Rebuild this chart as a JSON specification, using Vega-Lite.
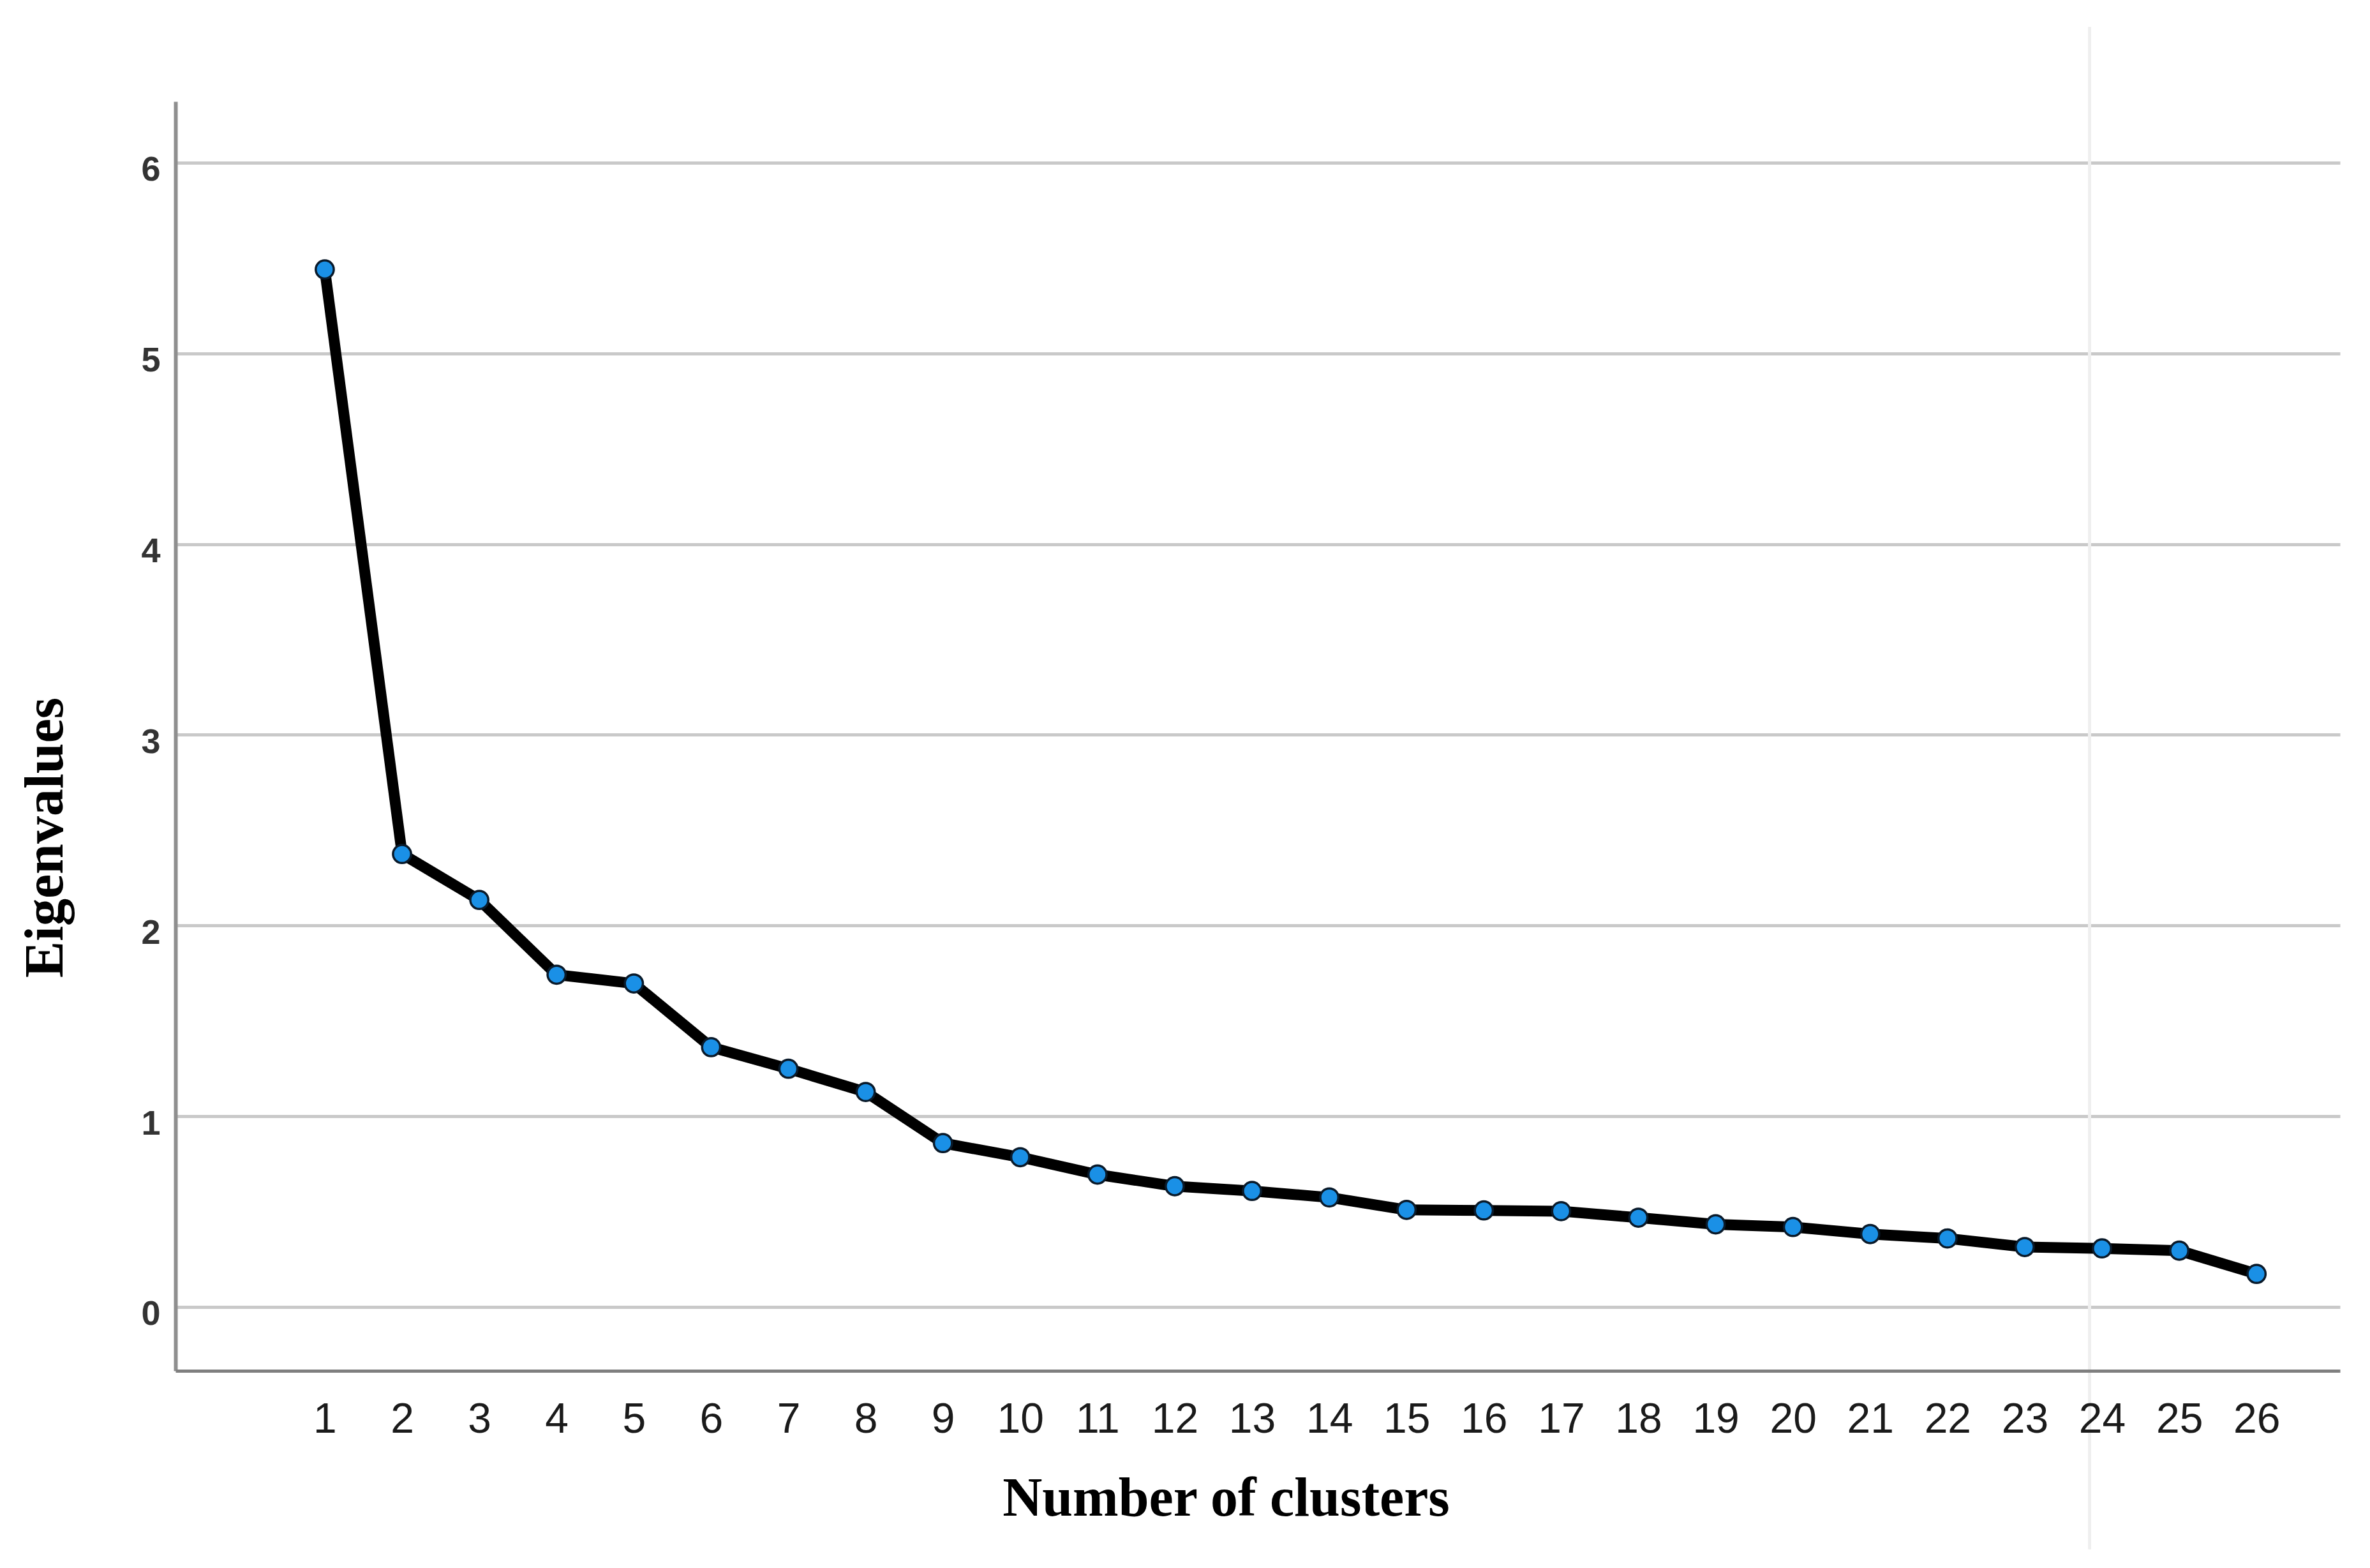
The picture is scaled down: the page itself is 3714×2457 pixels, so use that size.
{
  "$schema": "https://vega.github.io/schema/vega-lite/v6.json",
  "width": 3392,
  "height": 1989,
  "autosize": "none",
  "padding": {"left": 275, "top": 159, "right": 47, "bottom": 309},
  "background": "white",
  "config": {"view": {"stroke": null}},
  "data": {
    "values": [
      {"cluster": 1, "eigenvalue": 5.44},
      {"cluster": 2, "eigenvalue": 2.375},
      {"cluster": 3, "eigenvalue": 2.134},
      {"cluster": 4, "eigenvalue": 1.742},
      {"cluster": 5, "eigenvalue": 1.696},
      {"cluster": 6, "eigenvalue": 1.362},
      {"cluster": 7, "eigenvalue": 1.249},
      {"cluster": 8, "eigenvalue": 1.127},
      {"cluster": 9, "eigenvalue": 0.859},
      {"cluster": 10, "eigenvalue": 0.785},
      {"cluster": 11, "eigenvalue": 0.694},
      {"cluster": 12, "eigenvalue": 0.633},
      {"cluster": 13, "eigenvalue": 0.608},
      {"cluster": 14, "eigenvalue": 0.574},
      {"cluster": 15, "eigenvalue": 0.509},
      {"cluster": 16, "eigenvalue": 0.506},
      {"cluster": 17, "eigenvalue": 0.502},
      {"cluster": 18, "eigenvalue": 0.468},
      {"cluster": 19, "eigenvalue": 0.433},
      {"cluster": 20, "eigenvalue": 0.419},
      {"cluster": 21, "eigenvalue": 0.382},
      {"cluster": 22, "eigenvalue": 0.359},
      {"cluster": 23, "eigenvalue": 0.314},
      {"cluster": 24, "eigenvalue": 0.307},
      {"cluster": 25, "eigenvalue": 0.295},
      {"cluster": 26, "eigenvalue": 0.173}
    ]
  },
  "encoding": {
    "x": {
      "field": "cluster",
      "type": "quantitative",
      "scale": {"domain": [-0.932, 27.08], "nice": false, "zero": false},
      "axis": {
        "zindex": 1,
        "values": [1,2,3,4,5,6,7,8,9,10,11,12,13,14,15,16,17,18,19,20,21,22,23,24,25,26],
        "title": "Number of clusters",
        "titleFont": "Liberation Serif",
        "titleFontWeight": "bold",
        "titleFontSize": 86,
        "titleColor": "#000000",
        "titleX": 1646,
        "titleY": 200,
        "titleBaseline": "middle",
        "titleAnchor": null,
        "titleAlign": "center",
        "grid": false,
        "ticks": false,
        "domain": true,
        "domainColor": "#7f7f7f",
        "domainWidth": 5,
        "labelFont": "Liberation Sans Narrow, Arial Narrow, Liberation Sans",
        "labelFontSize": 66,
        "labelColor": "#1a1a1a",
        "labelPadding": 44,
        "labelBaseline": "top",
        "labelFlush": false,
        "labelOverlap": false
      }
    },
    "y": {
      "field": "eigenvalue",
      "type": "quantitative",
      "scale": {"domain": [-0.335, 6.321], "nice": false, "zero": false},
      "axis": {
        "values": [0, 1, 2, 3, 4, 5, 6],
        "title": "Eigenvalues",
        "titleFont": "Liberation Serif",
        "titleFontWeight": "bold",
        "titleFontSize": 86,
        "titleColor": "#000000",
        "titleAngle": 270,
        "titleX": -204,
        "titleY": 1153,
        "titleBaseline": "middle",
        "titleAlign": "center",
        "titleAnchor": null,
        "grid": true,
        "gridColor": "#c9c9c9",
        "gridWidth": 5,
        "ticks": false,
        "domain": true,
        "domainColor": "#8f8f8f",
        "domainWidth": 6,
        "labelFont": "Liberation Sans Narrow, Arial Narrow, Liberation Sans",
        "labelFontWeight": "bold",
        "labelFontSize": 54,
        "labelColor": "#333333",
        "labelPadding": 24,
        "labelOffset": 12,
        "labelBaseline": "middle"
      }
    }
  },
  "layer": [
    {
      "mark": {"type": "rule", "color": "#efefef", "strokeWidth": 4, "clip": false},
      "encoding": {
        "x": {"datum": 23.84, "type": "quantitative"},
        "y": {"datum": 6.71, "type": "quantitative"},
        "y2": {"datum": -1.27}
      }
    },
    {
      "mark": {"type": "line", "color": "#000000", "strokeWidth": 17, "strokeJoin": "round", "strokeCap": "round"}
    },
    {
      "mark": {"type": "point", "shape": "circle", "filled": true, "size": 800, "fill": "#1a90e6", "stroke": "#0a1a2a", "strokeWidth": 3.5, "opacity": 1}
    }
  ]
}
